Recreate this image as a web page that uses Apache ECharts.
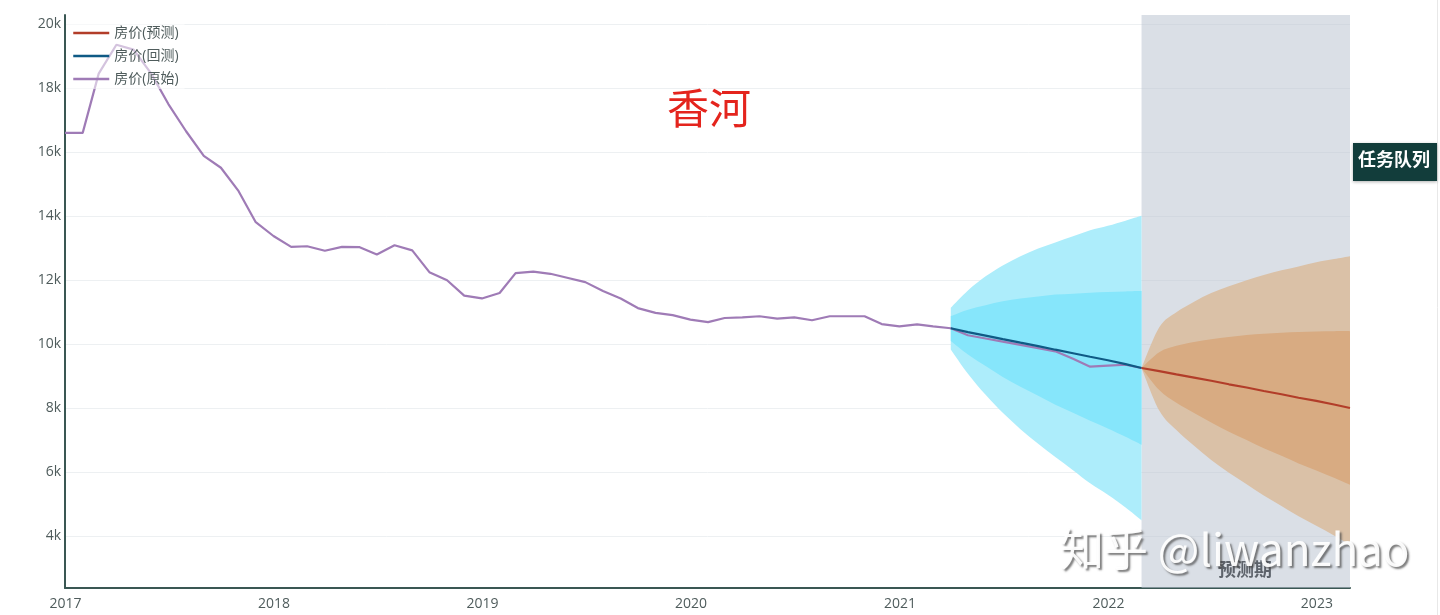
<!DOCTYPE html>
<html>
<head>
<meta charset="utf-8">
<script src="https://cdn.jsdelivr.net/npm/echarts@6/dist/echarts.min.js"></script>
<style>
  html, body { margin: 0; padding: 0; background: #ffffff; }
  #chart { width: 1440px; height: 615px; }
</style>
</head>
<body>
<div id="chart"></div>
<script>
// ---------- data ----------
const chartTitle = '香河';
const legendNames = ['房价(预测)', '房价(回测)', '房价(原始)'];
const yearTicks = ['2017-01-01', '2018-01-01', '2019-01-01', '2020-01-01', '2021-01-01', '2022-01-01', '2023-01-01'];
const yTicks = [4000, 6000, 8000, 10000, 12000, 14000, 16000, 18000, 20000];

const originalDates = [
  '2016-12-31',
  '2017-01-31','2017-02-28','2017-03-31','2017-04-30','2017-05-31','2017-06-30','2017-07-31','2017-08-31','2017-09-30','2017-10-31','2017-11-30','2017-12-31',
  '2018-01-31','2018-02-28','2018-03-31','2018-04-30','2018-05-31','2018-06-30','2018-07-31','2018-08-31','2018-09-30','2018-10-31','2018-11-30','2018-12-31',
  '2019-01-31','2019-02-28','2019-03-31','2019-04-30','2019-05-31','2019-06-30','2019-07-31','2019-08-31','2019-09-30','2019-10-31','2019-11-30','2019-12-31',
  '2020-01-31','2020-02-29','2020-03-31','2020-04-30','2020-05-31','2020-06-30','2020-07-31','2020-08-31','2020-09-30','2020-10-31','2020-11-30','2020-12-31',
  '2021-01-31','2021-02-28','2021-03-31','2021-04-30','2021-05-31','2021-06-30','2021-07-31','2021-08-31','2021-09-30','2021-10-31','2021-11-30','2021-12-31',
  '2022-01-31','2022-02-28'
];
const originalPrice = [
  16600,
  16600, 18450, 19350, 19200, 18450, 17500, 16650, 15880, 15510, 14780, 13810, 13380,
  13040, 13060, 12920, 13040, 13030, 12800, 13090, 12930, 12250, 12000, 11520, 11430,
  11600, 12220, 12270, 12200, 12070, 11940, 11660, 11430, 11130, 10980, 10910, 10770,
  10690, 10820, 10840, 10875, 10800, 10840, 10750, 10875, 10875, 10875, 10630, 10560,
  10620, 10560, 10500, 10280, 10180, 10080, 9980, 9880, 9780, 9550, 9300, 9330,
  9360, 9260
];

const backtestDates = ['2021-03-31','2021-04-30','2021-05-31','2021-06-30','2021-07-31','2021-08-31','2021-09-30','2021-10-31','2021-11-30','2021-12-31','2022-01-31','2022-02-28'];
const backtestPrice = [10500, 10380, 10270, 10160, 10050, 9940, 9830, 9720, 9610, 9500, 9380, 9260];
const backtestOuterUp = [11140, 11680, 12120, 12460, 12750, 12990, 13180, 13370, 13560, 13700, 13860, 14010];
const backtestInnerUp = [10880, 11080, 11220, 11340, 11430, 11490, 11550, 11580, 11610, 11630, 11650, 11660];
const backtestInnerLow = [10100, 9680, 9320, 8980, 8670, 8390, 8110, 7860, 7610, 7370, 7110, 6860];
const backtestOuterLow = [9840, 9080, 8420, 7860, 7350, 6890, 6480, 6070, 5660, 5300, 4900, 4500];

const forecastDates = ['2022-02-28','2022-03-31','2022-04-30','2022-05-31','2022-06-30','2022-07-31','2022-08-31','2022-09-30','2022-10-31','2022-11-30','2022-12-31','2023-01-31','2023-02-28'];
const forecastPrice = [9260, 9160, 9060, 8960, 8860, 8750, 8650, 8540, 8440, 8330, 8230, 8120, 8010];
const forecastOuterUp = [9260, 10530, 11000, 11330, 11600, 11810, 12000, 12160, 12310, 12430, 12560, 12660, 12750];
const forecastInnerUp = [9260, 9750, 9950, 10070, 10160, 10230, 10290, 10330, 10360, 10380, 10400, 10410, 10410];
const forecastInnerLow = [9260, 8570, 8170, 7850, 7560, 7270, 7010, 6750, 6520, 6280, 6060, 5830, 5610];
const forecastOuterLow = [9260, 7930, 7320, 6830, 6390, 5990, 5630, 5280, 4950, 4630, 4330, 4030, 3740];

const forecastPeriodLabel = '预测期';
const watermarkText = '知乎 @liwanzhao';
const overlayText = '任务队列';

// ---------- build ----------
const ts = s => Date.parse(s + 'T00:00:00Z');
const pairs = (d, v) => d.map((x, i) => [ts(x), v[i]]);

const cyanLight = '#adedfb', cyanDark = '#86e6fb';
const orangeLight = '#dac1a7', orangeDark = '#d8ab82';

// bands drawn in order: outer (light) first, inner (dark) on top
const bands = [
  { dates: backtestDates, top: backtestOuterUp, bottom: backtestOuterLow, color: cyanLight },
  { dates: backtestDates, top: backtestInnerUp, bottom: backtestInnerLow, color: cyanDark },
  { dates: forecastDates, top: forecastOuterUp, bottom: forecastOuterLow, color: orangeLight },
  { dates: forecastDates, top: forecastInnerUp, bottom: forecastInnerLow, color: orangeDark }
];

// smooth (Catmull-Rom) curve through pixel points, as SVG path commands
function curveCmds(p) {
  let s = '';
  for (let i = 0; i < p.length - 1; i++) {
    const p0 = p[Math.max(i - 1, 0)], p1 = p[i], p2 = p[i + 1], p3 = p[Math.min(i + 2, p.length - 1)];
    const c1 = [p1[0] + (p2[0] - p0[0]) / 6, p1[1] + (p2[1] - p0[1]) / 6];
    const c2 = [p2[0] - (p3[0] - p1[0]) / 6, p2[1] - (p3[1] - p1[1]) / 6];
    s += ' C' + c1[0].toFixed(2) + ',' + c1[1].toFixed(2) + ' ' + c2[0].toFixed(2) + ',' + c2[1].toFixed(2) + ' ' + p2[0].toFixed(2) + ',' + p2[1].toFixed(2);
  }
  return s;
}

const bandSeries = {
  name: 'bands', type: 'custom', silent: true, z: 2,
  encode: { x: 0, y: 1 },
  data: bands.map(b => [ts(b.dates[0]), b.top[0]]),
  renderItem: (params, api) => {
    const b = bands[params.dataIndex];
    const top = b.dates.map((d, i) => api.coord([ts(d), b.top[i]]));
    const bot = b.dates.map((d, i) => api.coord([ts(d), b.bottom[i]])).reverse();
    let path = 'M' + top[0][0].toFixed(2) + ',' + top[0][1].toFixed(2) + curveCmds(top);
    path += ' L' + bot[0][0].toFixed(2) + ',' + bot[0][1].toFixed(2) + curveCmds(bot) + ' Z';
    return { type: 'path', shape: { pathData: path }, style: { fill: b.color } };
  }
};

const shadeSeries = {
  name: 'shade', type: 'line', symbol: 'none', silent: true, z: 1,
  lineStyle: { opacity: 0, width: 0 },
  data: pairs(forecastDates, forecastPrice),
  markArea: {
    silent: true,
    itemStyle: { color: 'rgba(188,197,210,0.55)' },
    data: [[{ xAxis: ts(forecastDates[0]) }, { xAxis: ts(forecastDates[forecastDates.length - 1]) }]]
  }
};

const axisColor = '#3a5753';
const labelColor = '#4f5c5c';
const fontFam = '"Open Sans", "Noto Sans CJK SC", sans-serif';
const xTickValues = yearTicks.map(ts);

const option = {
  animation: false,
  backgroundColor: '#ffffff',
  grid: { left: 65, right: 90, top: 15, bottom: 27, containLabel: false },
  legend: {
    data: legendNames,
    orient: 'vertical',
    left: 66, top: 23,
    itemWidth: 36, itemHeight: 14, itemGap: 9,
    padding: [3, 6, 3, 6],
    backgroundColor: 'rgba(255,255,255,0.55)',
    itemStyle: { opacity: 0 },
    lineStyle: { width: 2.5 },
    textStyle: { color: labelColor, fontSize: 14, fontFamily: fontFam },
    selectedMode: false
  },
  xAxis: {
    type: 'value',
    min: ts(originalDates[0]),
    max: ts(forecastDates[forecastDates.length - 1]),
    axisLine: { show: true, onZero: false, lineStyle: { color: axisColor, width: 2 } },
    axisTick: { show: false, customValues: xTickValues },
    splitLine: { show: false },
    axisLabel: {
      customValues: xTickValues,
      formatter: v => String(new Date(v).getUTCFullYear()),
      color: labelColor, fontSize: 14, fontFamily: fontFam, margin: 9,
      hideOverlap: false, showMinLabel: true, showMaxLabel: true
    }
  },
  yAxis: {
    type: 'value',
    min: 2390, max: 20280,
    axisLine: { show: true, onZero: false, lineStyle: { color: axisColor, width: 2 } },
    axisTick: { show: false, customValues: yTicks },
    splitLine: { show: true, lineStyle: { color: '#edf0f2', width: 1 } },
    axisLabel: {
      customValues: yTicks,
      formatter: v => (v / 1000) + 'k',
      color: labelColor, fontSize: 14, fontFamily: fontFam, margin: 4
    }
  },
  series: [
    shadeSeries,
    bandSeries,
    {
      name: legendNames[2], type: 'line', symbol: 'none', z: 3,
      lineStyle: { color: '#9f7bb6', width: 2.2 }, itemStyle: { color: '#9f7bb6' },
      data: pairs(originalDates, originalPrice)
    },
    {
      name: legendNames[1], type: 'line', symbol: 'none', z: 4,
      lineStyle: { color: '#0f5a85', width: 2.2 }, itemStyle: { color: '#0f5a85' },
      data: pairs(backtestDates, backtestPrice)
    },
    {
      name: legendNames[0], type: 'line', symbol: 'none', z: 4,
      lineStyle: { color: '#b23d29', width: 2.2 }, itemStyle: { color: '#b23d29' },
      data: pairs(forecastDates, forecastPrice)
    }
  ],
  graphic: [
    {
      type: 'text', left: 667, top: 87, z: 10,
      style: { text: chartTitle, fill: '#e4241d', fontSize: 42, fontFamily: '"Noto Sans CJK SC", sans-serif' }
    },
    {
      type: 'text', left: 1218, top: 560, z: 10,
      style: { text: forecastPeriodLabel, fill: '#5d636b', fontSize: 18, fontWeight: 'bold', fontFamily: '"Noto Sans CJK SC", sans-serif' }
    },
    {
      type: 'text', left: 1060, top: 527, z: 20,
      style: {
        text: watermarkText, fill: 'rgba(255,255,255,0.95)', fontSize: 44,
        fontFamily: '"Noto Sans CJK SC", "Open Sans", sans-serif',
        textShadowColor: 'rgba(70,70,70,0.75)', textShadowBlur: 2, textShadowOffsetX: 2, textShadowOffsetY: 2
      }
    },
    {
      type: 'rect', z: 30,
      shape: { x: 1353, y: 143, width: 84, height: 38 },
      style: { fill: '#123d3b', shadowColor: 'rgba(0,0,0,0.3)', shadowBlur: 3, shadowOffsetY: 1 }
    },
    {
      type: 'text', z: 31, left: 1358, top: 150,
      style: { text: overlayText, fill: '#ffffff', fontSize: 18, fontWeight: 'bold', fontFamily: '"Noto Sans CJK SC", sans-serif' }
    },
    {
      type: 'line', z: 5,
      shape: { x1: 1437.5, y1: 0, x2: 1437.5, y2: 615 },
      style: { stroke: '#e8e8e8', lineWidth: 1 }
    }
  ]
};

const chart = echarts.init(document.getElementById('chart'), null, { renderer: 'canvas' });
chart.setOption(option);
</script>
</body>
</html>
